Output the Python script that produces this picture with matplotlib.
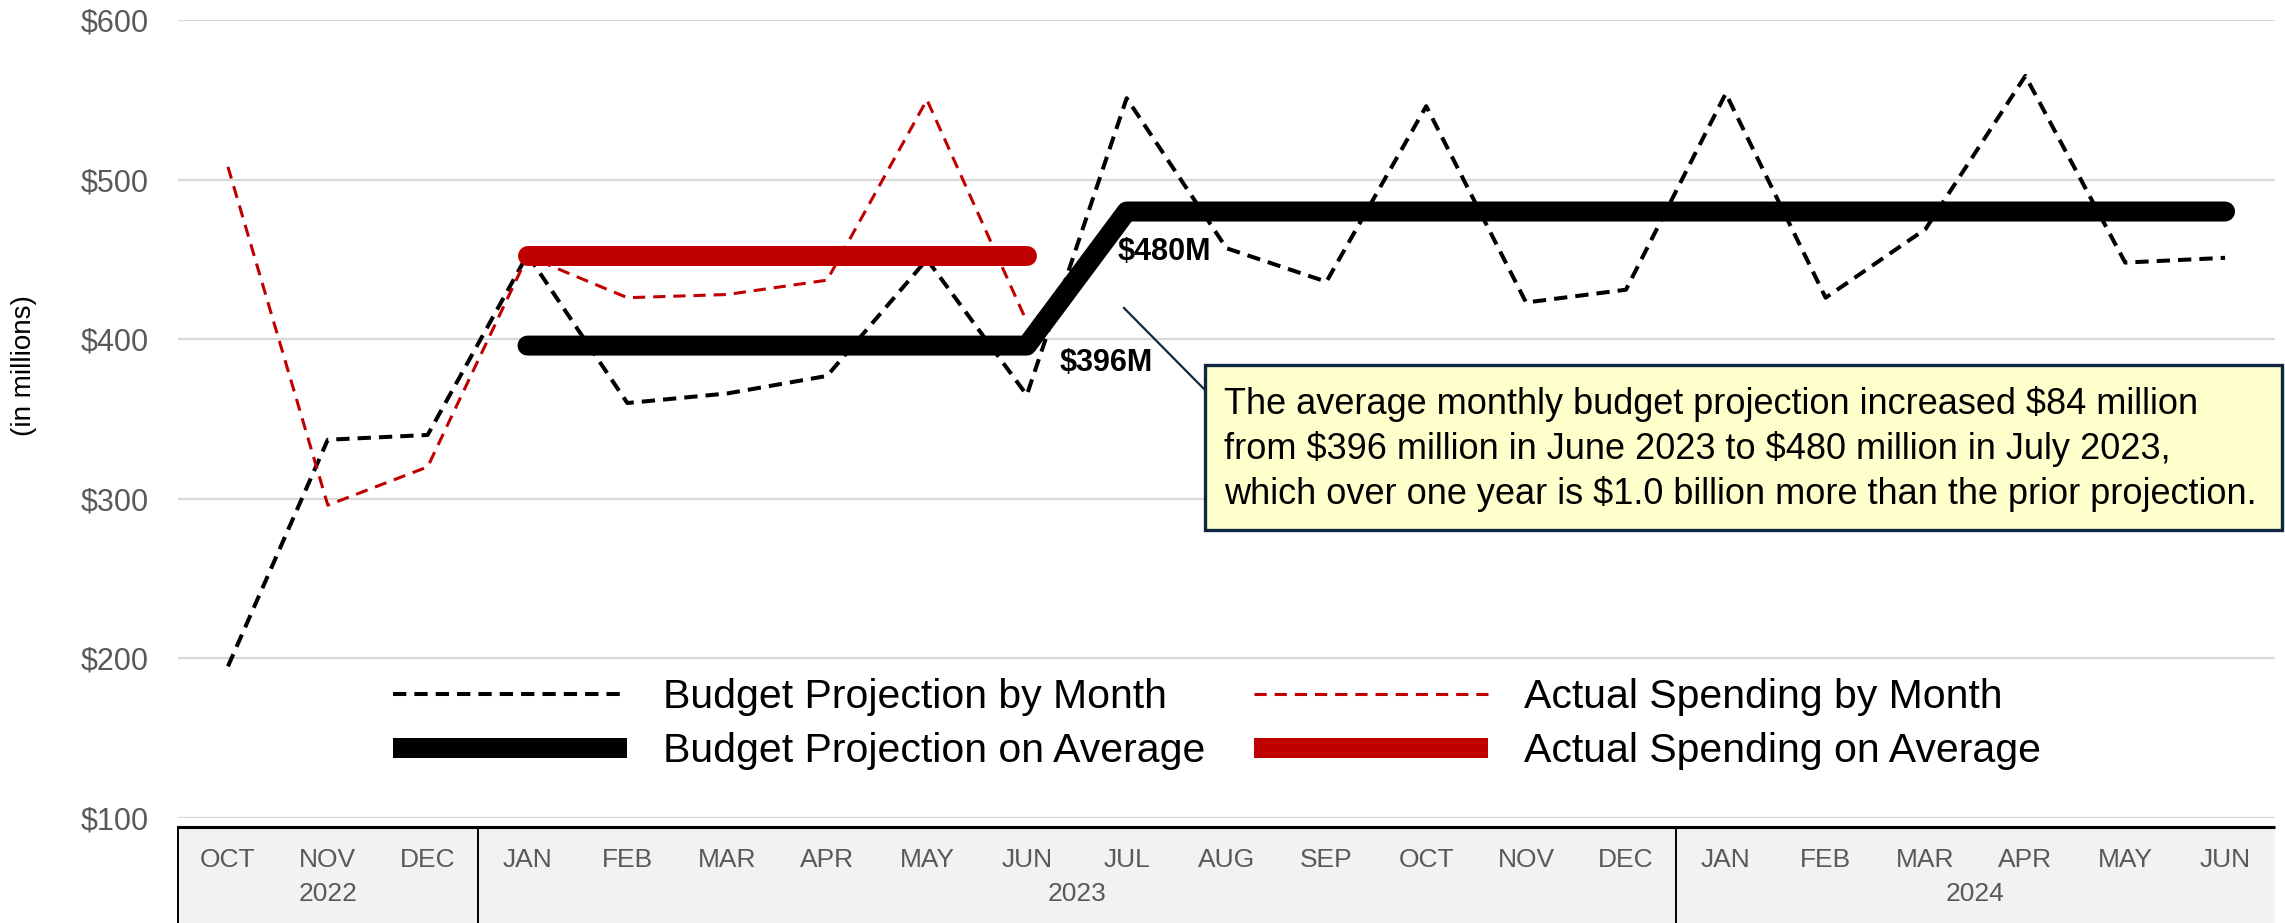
import matplotlib
matplotlib.use("Agg")
import matplotlib.pyplot as plt
from matplotlib.lines import Line2D
from matplotlib.patches import Rectangle

# data (in millions of dollars), Oct 2022 - Jun 2024
months = ["OCT", "NOV", "DEC", "JAN", "FEB", "MAR", "APR", "MAY", "JUN", "JUL", "AUG",
          "SEP", "OCT", "NOV", "DEC", "JAN", "FEB", "MAR", "APR", "MAY", "JUN"]
years = ["2022", "2023", "2024"]
year_spans = [(0, 2), (3, 14), (15, 20)]

budget_month = [195, 337, 340, 453, 360, 366, 377, 450, 365, 551, 457, 436,
                546, 423, 431, 554, 426, 469, 565, 448, 451]
actual_month = [508, 296, 320, 452, 426, 428, 437, 550, 411]
budget_avg_idx = [3, 8, 9, 20]
budget_avg = [396, 396, 480, 480]
actual_avg_idx = [3, 8]
actual_avg = [452, 452]

yticks = [100, 200, 300, 400, 500, 600]

note = ("The average monthly budget projection increased \\$84 million\n"
        "from \\$396 million in June 2023 to \\$480 million in July 2023,\n"
        "which over one year is \\$1.0 billion more than the prior projection.")

plt.rcParams["font.family"] = ["Liberation Sans", "DejaVu Sans"]

W, H = 2285, 923
fig = plt.figure(figsize=(W / 100, H / 100), dpi=100)
# axes placed in pixel terms
ax = fig.add_axes([178 / W, 1 - 818 / H, (2275 - 178) / W, (818 - 20) / H])


def px(x, y):
    # figure pixel (from top-left) -> figure fraction
    return x / W, 1 - y / H


x_all = list(range(len(months)))
gray = "#595959"
red = "#c00000"

# line styles shared by plot and legend
styles = {
    "Budget Projection by Month": dict(color="black", lw=2.9, dashes=(3.3, 2.0)),
    "Budget Projection on Average": dict(color="black", lw=14.4),
    "Actual Spending by Month": dict(color=red, lw=2.2, dashes=(4.0, 2.6)),
    "Actual Spending on Average": dict(color=red, lw=14.4),
}

ax.plot(x_all, budget_month, zorder=3, **styles["Budget Projection by Month"])
ax.plot(x_all[:len(actual_month)], actual_month, zorder=3,
        **styles["Actual Spending by Month"])
ax.plot(budget_avg_idx, budget_avg, solid_capstyle="round", solid_joinstyle="round",
        zorder=4, **styles["Budget Projection on Average"])
ax.plot(actual_avg_idx, actual_avg, solid_capstyle="round", zorder=4,
        **styles["Actual Spending on Average"])

ax.set_xlim(-0.5, len(months) - 0.5)
ax.set_ylim(100, 600)
ax.set_yticks(yticks, [f"${v}" for v in yticks])
ax.grid(axis="y", color="#d9d9d9", lw=1.6)
ax.set_axisbelow(True)
for s in ax.spines.values():
    s.set_visible(False)
ax.tick_params(axis="y", length=0, pad=21, labelsize=22, labelcolor=gray)

# category axis: months + years in a shaded box
ax.set_xticks(x_all, months)
ax.tick_params(axis="x", length=0, pad=21.5, labelsize=19, labelcolor=gray)
tr = ax.get_xaxis_transform()
ytop = -0.0113
ax.add_patch(Rectangle((-0.5, -0.2), len(months), 0.2 + ytop, transform=tr,
                       facecolor="#f2f2f2", edgecolor="none", clip_on=False, zorder=0))
ax.plot([-0.5, len(months) - 0.5], [ytop, ytop], transform=tr, color="black",
        lw=2.2, clip_on=False, solid_capstyle="butt")
for xs in [-0.5, 2.5, 14.5]:
    ax.plot([xs, xs], [ytop, -0.2], transform=tr, color="black", lw=1.4, clip_on=False)
for yr, (a, b) in zip(years, year_spans):
    ax.text((a + b) / 2, -0.0952, yr, transform=tr, ha="center", va="center",
            fontsize=19, color=gray)

# value labels
ax.annotate(f"\\${budget_avg[1]}M", xy=(budget_avg_idx[1], budget_avg[1]), xytext=(33, -17),
            textcoords="offset pixels", ha="left", va="center", fontsize=22,
            fontweight="bold", color="black")
ax.annotate(f"\\${budget_avg[2]}M", xy=(budget_avg_idx[2], budget_avg[2]), xytext=(-9, -40),
            textcoords="offset pixels", ha="left", va="center", fontsize=22,
            fontweight="bold", color="black")

# callout box with connector
x0, y0 = px(1205, 530)
x1, y1 = px(2282, 365)
fig.patches.append(Rectangle((x0, y0), x1 - x0, y1 - y0, transform=fig.transFigure,
                             facecolor="#ffffcc", edgecolor="#0e2841", lw=2.4, zorder=5))
fig.lines.append(Line2D(*zip(px(1124, 308), px(1205, 390)), transform=fig.transFigure,
                        color="#0e2841", lw=1.6, zorder=5))
tx, ty = px(1224, 449)
fig.text(tx, ty, note, ha="left", va="center", fontsize=26, linespacing=1.31,
         color="black", zorder=6)

fig.text(*px(24, 366), "(in millions)", rotation=90, ha="center", va="center",
         fontsize=20, color="black")

# legend with square-ended handles, filled by column
labels = list(styles)
handles = [Line2D([], [], solid_capstyle="butt", dash_capstyle="butt", **styles[k])
           for k in labels]
ax.legend(handles, labels, ncol=2, loc="upper left",
          bbox_to_anchor=px(393, 678), bbox_transform=fig.transFigure, frameon=False,
          fontsize=29.5, handlelength=5.7, handletextpad=0.88, columnspacing=1.2,
          labelspacing=0.4, borderpad=0, borderaxespad=0, labelcolor="black")

fig.savefig("out.png", dpi=100)
